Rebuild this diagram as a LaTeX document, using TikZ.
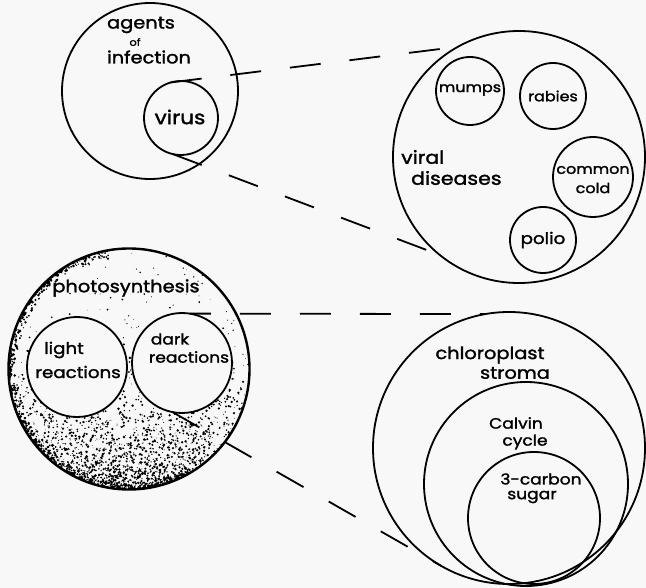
\documentclass[tikz,border=0pt]{standalone}
\usepackage{fontspec}
\setmainfont{Poppins}[FakeStretch=1.14,FakeBold=1.6]
\definecolor{paper}{RGB}{248,248,248}
\begin{document}
\begin{tikzpicture}[x=1pt,y=-1pt,
  ring/.style={circle,draw,line width=1.8pt,inner sep=0pt,outer sep=0pt},
  gap/.style={line width=1.8pt,dash pattern=on 31pt off 29pt},
  lbl/.style={inner sep=0pt,font=\fontsize{#1}{#1}\selectfont},
]
% page
\fill[paper] (0,0) rectangle (646,588);
\useasboundingbox (0,0) rectangle (646,588);

% stippled shading inside the photosynthesis circle
\begin{scope}
  \clip (129,369) circle [radius=120pt];
  \pgfmathsetseed{42}
  \foreach \i in {1,...,3200}{
    \pgfmathsetmacro{\px}{5+247*rnd}
    \pgfmathsetmacro{\py}{492-150*rnd*rnd}
    \pgfmathsetmacro{\pr}{0.35+1.0*rnd}
    \fill (\px,\py) circle [radius=\pr pt];
  }
  \foreach \i in {1,...,300}{
    \pgfmathsetmacro{\px}{5+247*rnd}
    \pgfmathsetmacro{\py}{250+240*rnd}
    \pgfmathsetmacro{\pr}{0.3+0.7*rnd}
    \fill (\px,\py) circle [radius=\pr pt];
  }
  \foreach \i in {1,...,800}{
    \pgfmathsetmacro{\pa}{100+200*rnd}
    \pgfmathsetmacro{\pd}{121-9*rnd*rnd}
    \pgfmathsetmacro{\pr}{0.5+1.0*rnd}
    \fill ({129+\pd*cos(\pa)},{369-\pd*sin(\pa)}) circle [radius=\pr pt];
  }
\end{scope}

% top pair of diagrams
\node[ring,minimum size=176pt] (agents) at (150,91) {};
\node[ring,minimum size=74pt] (virus) at (181,118) {};
\node[ring,minimum size=252pt] (viral) at (519,157) {};
\node[ring,minimum size=68pt] (mumps) at (470,91) {};
\node[ring,minimum size=66pt] (rabies) at (553,96) {};
\node[ring,minimum size=80pt] (cold) at (593,177) {};
\node[ring,minimum size=66pt] (polio) at (543,240) {};

% bottom pair of diagrams
\node[ring,minimum size=241pt,line width=2.4pt] (photo) at (129,369) {};
\node[ring,minimum size=100pt,fill=paper] (light) at (77,367) {};
\node[ring,minimum size=100pt,fill=paper] (dark) at (182,363) {};
\node[ring,minimum size=272pt] (stroma) at (509,448) {};
\node[ring,minimum size=204pt] (calvin) at (526,484) {};
\node[ring,minimum size=132pt] (sugar) at (534,518) {};

% dashed projection lines
\draw[gap] (virus.106) -- (viral.119);
\draw[gap] (virus.257) -- (viral.231);
\draw[gap,dash phase=10pt] (dark.81) -- (stroma.100);
\draw[gap] (dark.259) -- (stroma.240);

% labels
\node[lbl=17] (t1) at (141,25) {agents};
\node[lbl=10] (t2) at (135,42) {of};
\node[lbl=17] (t3) at (149,57) {infection};
\node[lbl=19] (t4) at (180,117) {virus};
\node[lbl=14] (t5) at (470,90) {mumps};
\node[lbl=14] (t6) at (553,96) {rabies};
\node[lbl=14] (t7) at (593,170) {common};
\node[lbl=14] (t8) at (593,188) {cold};
\node[lbl=16] (t9) at (543,240) {polio};
\node[lbl=18,anchor=west] (t10) at (401,157) {viral};
\node[lbl=18,anchor=west] (t11) at (411,178) {diseases};
\node[lbl=17] (t12) at (126,288) {photosynthesis};
\node[lbl=16] (t13) at (64,350) {light};
\node[lbl=16] (t14) at (78,372) {reactions};
\node[lbl=15] (t15) at (170,339) {dark};
\node[lbl=15] (t16) at (189,357) {reactions};
\node[lbl=17] (t17) at (490,355) {chloroplast};
\node[lbl=17] (t18) at (515,373) {stroma};
\node[lbl=15] (t19) at (516,423) {Calvin};
\node[lbl=15] (t20) at (525,442) {cycle};
\node[lbl=15] (t21) at (541,479) {3-carbon};
\node[lbl=15] (t22) at (532,497) {sugar};
\end{tikzpicture}
\end{document}
